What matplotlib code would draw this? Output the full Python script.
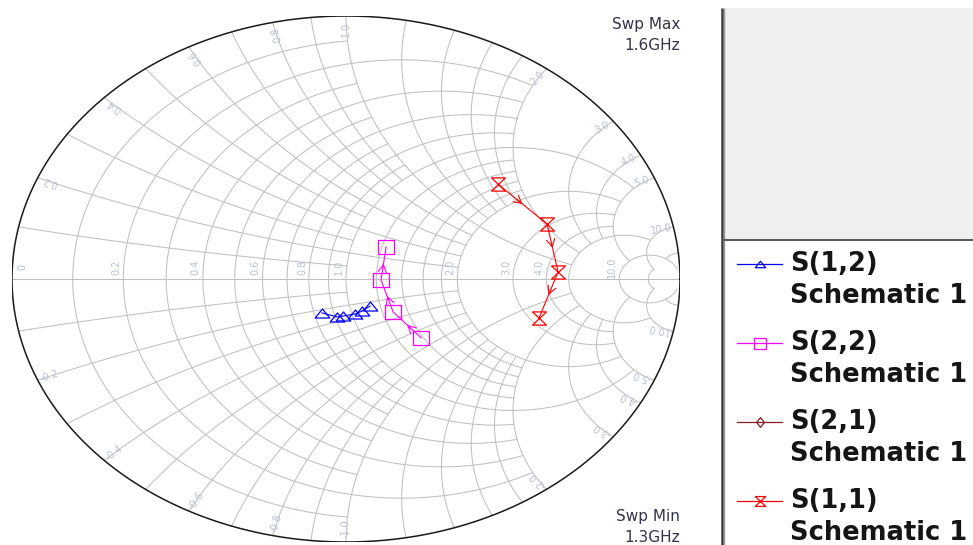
import numpy as np
import matplotlib
matplotlib.use("Agg")
import matplotlib.pyplot as plt
from matplotlib.path import Path

# ---- traces: reflection coefficients (real, imag), sweep 1.3 GHz -> 1.6 GHz ----
s12_re = [-0.072, -0.027, -0.009, 0.027, 0.048, 0.072]
s12_im = [-0.129, -0.144, -0.141, -0.133, -0.122, -0.103]
s22_re = [0.225, 0.141, 0.105, 0.120]
s22_im = [-0.224, -0.125, -0.004, 0.122]
s11_re = [0.455, 0.602, 0.635, 0.578]
s11_im = [0.361, 0.209, 0.027, -0.148]
sweep_min = "1.3GHz"
sweep_max = "1.6GHz"

legend_names = ["S(1,2)", "S(2,2)", "S(2,1)", "S(1,1)"]
legend_sub = "Schematic 1"

# ---- grid: (value, extent along the other coordinate) ----
r_grid = [(0.1, 1.0), (0.2, 2.0), (0.3, 1.0), (0.4, 2.0), (0.5, 1.0),
          (0.6, 2.0), (0.7, 1.0), (0.8, 2.0), (0.9, 1.0), (1.0, 5.0),
          (1.2, 2.0), (1.4, 2.0), (1.6, 2.0), (1.8, 2.0), (2.0, 5.0),
          (3.0, 5.0), (4.0, 5.0), (5.0, 10.0), (10.0, 50.0), (20.0, 10.0)]
x_grid = [(0.1, 1.0), (0.2, 2.0), (0.3, 1.0), (0.4, 2.0), (0.5, 1.0),
          (0.6, 2.0), (0.7, 1.0), (0.8, 2.0), (0.9, 1.0), (1.0, 5.0),
          (1.2, 2.0), (1.4, 2.0), (1.6, 2.0), (1.8, 2.0), (2.0, 5.0),
          (3.0, 5.0), (4.0, 5.0), (5.0, 10.0), (10.0, 20.0), (20.0, 10.0)]
r_labels = [0.0, 0.2, 0.4, 0.6, 0.8, 1.0, 2.0, 3.0, 4.0, 10.0]
x_labels = [0.2, 0.4, 0.6, 0.8, 1.0, 2.0, 3.0, 4.0, 5.0, 10.0]

GRID = "#c0c0c0"
LABEL = "#b8c0ce"
W, H = 973, 545


def gamma(z):
    return (z - 1) / (z + 1)


fig = plt.figure(figsize=(W / 100, H / 100), dpi=100)
fig.patch.set_facecolor("white")

# background panel in pixel coordinates
pan = fig.add_axes([0, 0, 1, 1])
pan.set_xlim(0, W)
pan.set_ylim(H, 0)
pan.axis("off")

pan.add_patch(plt.Rectangle((724, 8), W - 724, 232, facecolor="#f0f0f0",
                            edgecolor="none"))
pan.plot([721.5, 721.5], [8, H], color="#3c3c3c", lw=1.8, solid_capstyle="butt")
pan.plot([724, 724], [8, H], color="#9a9a9a", lw=1.0, solid_capstyle="butt")
pan.plot([724, W], [240, 240], color="#4a4a4a", lw=1.3, solid_capstyle="butt")

# Smith chart axes
ax = fig.add_axes([12 / W, 3 / H, 668 / W, 526 / H])
ax.set_xlim(-1, 1)
ax.set_ylim(-1, 1)
ax.axis("off")
ax.patch.set_alpha(0)

# constant resistance circles
for r, xlim in r_grid:
    t = np.linspace(-np.arctan(xlim), np.arctan(xlim), 600)
    g = gamma(r + 1j * np.tan(t))
    ax.plot(g.real, g.imag, color=GRID, lw=0.75, zorder=1)

# constant reactance arcs
for xv, rlim in x_grid:
    t = np.linspace(0, np.arctan(rlim), 600)
    for s in (1, -1):
        g = gamma(np.tan(t) + 1j * s * xv)
        ax.plot(g.real, g.imag, color=GRID, lw=0.75, zorder=1)

ax.plot([-1, 1], [0, 0], color=GRID, lw=0.75, zorder=1)

th = np.linspace(0, 2 * np.pi, 800)
ax.plot(np.cos(th), np.sin(th), color="#1a1a1a", lw=1.1, zorder=3)

fig.canvas.draw()
T = ax.transData
Ti = T.inverted()
c_disp = T.transform((0, 0))

# resistance labels along the real axis
for r in r_labels:
    gx = gamma(r).real
    p = T.transform((gx, 0))
    dx = 10 if r == 0 else -7
    q = Ti.transform((p[0] + dx, p[1] + 12))
    ax.text(q[0], q[1], f"{r:.1f}" if r > 0 else "0", rotation=90,
            ha="center", va="center", fontsize=7, color=LABEL, zorder=2)

# reactance labels just inside the rim
for xv in x_labels:
    for s in (1, -1):
        g = gamma(1j * s * xv)
        p = T.transform((g.real, g.imag))
        v = c_disp - p
        v = v / np.hypot(*v)
        q = Ti.transform(p + v * 13)
        ang = np.degrees(np.arctan2(-v[1], -v[0])) % 180
        txt = f"{s * xv:.1f}"
        ax.text(q[0], q[1], txt, rotation=ang, rotation_mode="anchor",
                ha="center", va="center", fontsize=7, color=LABEL, zorder=2)

# markers
tri = Path([(-1, -0.62), (1, -0.62), (0, 0.62), (-1, -0.62)],
           [Path.MOVETO, Path.LINETO, Path.LINETO, Path.CLOSEPOLY])
box = Path([(-1, -0.88), (1, -0.88), (1, 0.88), (-1, 0.88), (-1, -0.88)],
           [Path.MOVETO, Path.LINETO, Path.LINETO, Path.LINETO, Path.CLOSEPOLY])
hourglass = Path([(-1, 0.95), (1, 0.95), (-1, -0.95), (1, -0.95), (-1, 0.95)],
                 [Path.MOVETO, Path.LINETO, Path.LINETO, Path.LINETO, Path.LINETO])
diamond = Path([(0, 1), (0.8, 0), (0, -1), (-0.8, 0), (0, 1)],
               [Path.MOVETO, Path.LINETO, Path.LINETO, Path.LINETO, Path.CLOSEPOLY])

BLUE, MAG, DRED, RED = "#0000ff", "#ff00ff", "#8b1a1a", "#ff0000"


def trace(re, im, color, marker, ms, arrows=True):
    ax.plot(re, im, color=color, lw=0.8, marker=marker, ms=ms, mfc="none",
            mec=color, mew=0.9, zorder=5)
    if arrows:
        for i in range(len(re) - 1):
            a = np.array([re[i], im[i]])
            b = np.array([re[i + 1], im[i + 1]])
            ax.annotate("", xy=a + 0.5 * (b - a), xytext=a + 0.38 * (b - a),
                        arrowprops=dict(arrowstyle="->,head_length=0.55,head_width=0.3",
                                        color=color, lw=0.8, shrinkA=0, shrinkB=0),
                        zorder=5)


trace(s12_re, s12_im, BLUE, tri, 10.5, arrows=False)
trace(s22_re, s22_im, MAG, box, 12.0)
trace(s11_re, s11_im, RED, hourglass, 10.0)

# sweep annotations
for txt, y in (("Swp Max", 25), (sweep_max, 45), ("Swp Min", 517), (sweep_min, 538)):
    pan.text(680, y, txt, ha="right", va="center", fontsize=11,
             color="#33334a", family="DejaVu Sans")

# legend
styles = [(BLUE, tri, 7.5), (MAG, box, 9.0), (DRED, diamond, 7.0), (RED, hourglass, 7.5)]
for k, (name, (col, mk, ms)) in enumerate(zip(legend_names, styles)):
    y = 264 + 79 * k
    pan.plot([737, 782], [y, y], color=col, lw=0.9)
    pan.plot([760], [y], marker=mk, ms=ms, mfc="none", mec=col, mew=0.9)
    pan.text(790, y, name, ha="left", va="center", fontsize=18.5,
             color="#151515", family="DejaVu Sans", weight="bold")
    pan.text(790, y + 32, legend_sub, ha="left", va="center", fontsize=18.5,
             color="#151515", family="DejaVu Sans", weight="bold")

fig.savefig("out.png", dpi=100, facecolor="white")
